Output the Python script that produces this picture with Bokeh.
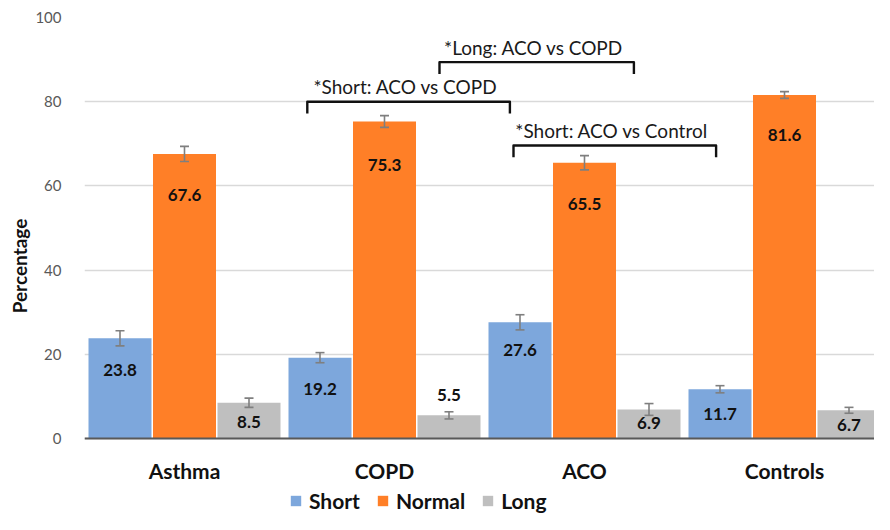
from bokeh.plotting import figure
from bokeh.models import (ColumnDataSource, Range1d, FixedTicker, Whisker, TeeHead,
                          Legend, LegendItem, Span)
from bokeh.core.properties import value
from bokeh.embed import file_html
from bokeh.resources import INLINE

# ---- data ----
categories = ["Asthma", "COPD", "ACO", "Controls"]
series = ["Short", "Normal", "Long"]
short_vals = [23.8, 19.2, 27.6, 11.7]
normal_vals = [67.6, 75.3, 65.5, 81.6]
long_vals = [8.5, 5.5, 6.9, 6.7]
short_err = [1.8, 1.2, 1.8, 0.85]
normal_err = [1.8, 1.4, 1.7, 0.8]
long_err = [1.1, 0.85, 1.4, 0.7]
y_ticks = [0, 20, 40, 60, 80, 100]

# significance brackets: (label, left group, left pos, right group, right pos, level)
brackets = [
    ("*Short: ACO vs COPD", 1, -0.386, 2, -0.373, 80.0),
    ("*Long: ACO vs COPD", 1, 0.275, 2, 0.247, 89.4),
    ("*Short: ACO vs Control", 2, -0.355, 3, -0.342, 69.6),
]

# ---- styles ----
colors = ["#7DA7DC", "#FF7F27", "#BFBFBF"]
label_dy = [  # px offset of value label centre below bar top
    [32, 31, 28, 25],
    [41, 44, 41, 40],
    [19, -20, 14, 15],
]
FONT = "Lato"
offsets = [-0.3225, 0.0, 0.3225]
bar_w = 0.315

p = figure(width=874, height=514, output_backend="svg", toolbar_location=None,
           x_range=Range1d(0, 3.95), y_range=Range1d(-18.05, 100),
           min_border_left=84, min_border_right=0, min_border_top=17, min_border_bottom=0)
p.outline_line_color = None
p.background_fill_color = "white"
p.border_fill_color = "white"

# axis baseline
p.add_layout(Span(location=0, dimension="width", line_color="#595959", line_width=2))

all_vals = [short_vals, normal_vals, long_vals]
all_errs = [short_err, normal_err, long_err]
renderers = []
for k, (name, vals, errs) in enumerate(zip(series, all_vals, all_errs)):
    xs = [i + 0.5 + offsets[k] for i in range(len(categories))]
    src = ColumnDataSource(dict(
        x=xs, top=vals,
        upper=[v + e for v, e in zip(vals, errs)],
        lower=[v - e for v, e in zip(vals, errs)],
        label=[f"{v:.1f}" for v in vals],
        dy=label_dy[k],
    ))
    r = p.vbar(x="x", top="top", width=bar_w, bottom=0, source=src,
               fill_color=colors[k], line_color=None)
    renderers.append(r)
    w = Whisker(source=src, base="x", upper="upper", lower="lower",
                line_color="#7F7F7F", line_width=1.6, level="overlay",
                upper_head=TeeHead(size=9, line_color="#7F7F7F", line_width=1.6),
                lower_head=TeeHead(size=9, line_color="#7F7F7F", line_width=1.6))
    p.add_layout(w)
    p.text(x="x", y="top", text="label", y_offset="dy", source=src,
           text_align="center", text_baseline="middle",
           text_font=value(FONT), text_font_style="bold",
           text_font_size="17px", text_color="#111111")

# category labels under the baseline
p.text(x=[i + 0.5 for i in range(len(categories))], y=[0] * len(categories), text=categories,
       y_offset=32, text_align="center", text_baseline="middle",
       text_font=value(FONT), text_font_style="bold", text_font_size="21px",
       text_color="#111111")

# brackets
bx, by, tx, ty, tt = [], [], [], [], []
for lab, g0, p0, g1, p1, lvl in brackets:
    x0 = g0 + 0.5 + p0
    x1 = g1 + 0.5 + p1
    bx.append([x0, x0, x1, x1])
    by.append([lvl - 2.8, lvl, lvl, lvl - 2.8])
    tx.append((x0 + x1) / 2 - 0.015)
    ty.append(lvl)
    tt.append(lab)
p.multi_line(xs=bx, ys=by, line_color="#111111", line_width=2.4, line_join="round")
p.text(x=tx, y=ty, text=tt, y_offset=-15, text_align="center", text_baseline="middle",
       text_font=value(FONT), text_font_size="19px", text_color="#1a1a1a")

# axes
p.xaxis.visible = False
p.xgrid.grid_line_color = None
p.ygrid.grid_line_color = "#D9D9D9"
p.ygrid.grid_line_width = 1.5
p.yaxis.ticker = FixedTicker(ticks=y_ticks)
p.yaxis.axis_line_color = None
p.yaxis.major_tick_line_color = None
p.yaxis.minor_tick_line_color = None
p.yaxis.major_label_text_font = FONT
p.yaxis.major_label_text_font_size = "15px"
p.yaxis.major_label_text_color = "#595959"
p.yaxis.major_label_standoff = 17
p.yaxis.axis_label = "Percentage"
p.yaxis.axis_label_text_font = FONT
p.yaxis.axis_label_text_font_style = "bold"
p.yaxis.axis_label_text_font_size = "19px"
p.yaxis.axis_label_text_color = "#111111"
p.yaxis.axis_label_standoff = 1

legend = Legend(items=[LegendItem(label=s, renderers=[r]) for s, r in zip(series, renderers)],
                orientation="horizontal", location=(205, 1),
                glyph_width=13, glyph_height=13, label_standoff=7, spacing=16,
                padding=0, margin=0, border_line_alpha=0, background_fill_alpha=0,
                label_height=20,
                label_text_font=FONT, label_text_font_style="bold",
                label_text_font_size="21px", label_text_color="#111111")
p.add_layout(legend, "center")

open("out.html", "w").write(file_html(p, INLINE))
